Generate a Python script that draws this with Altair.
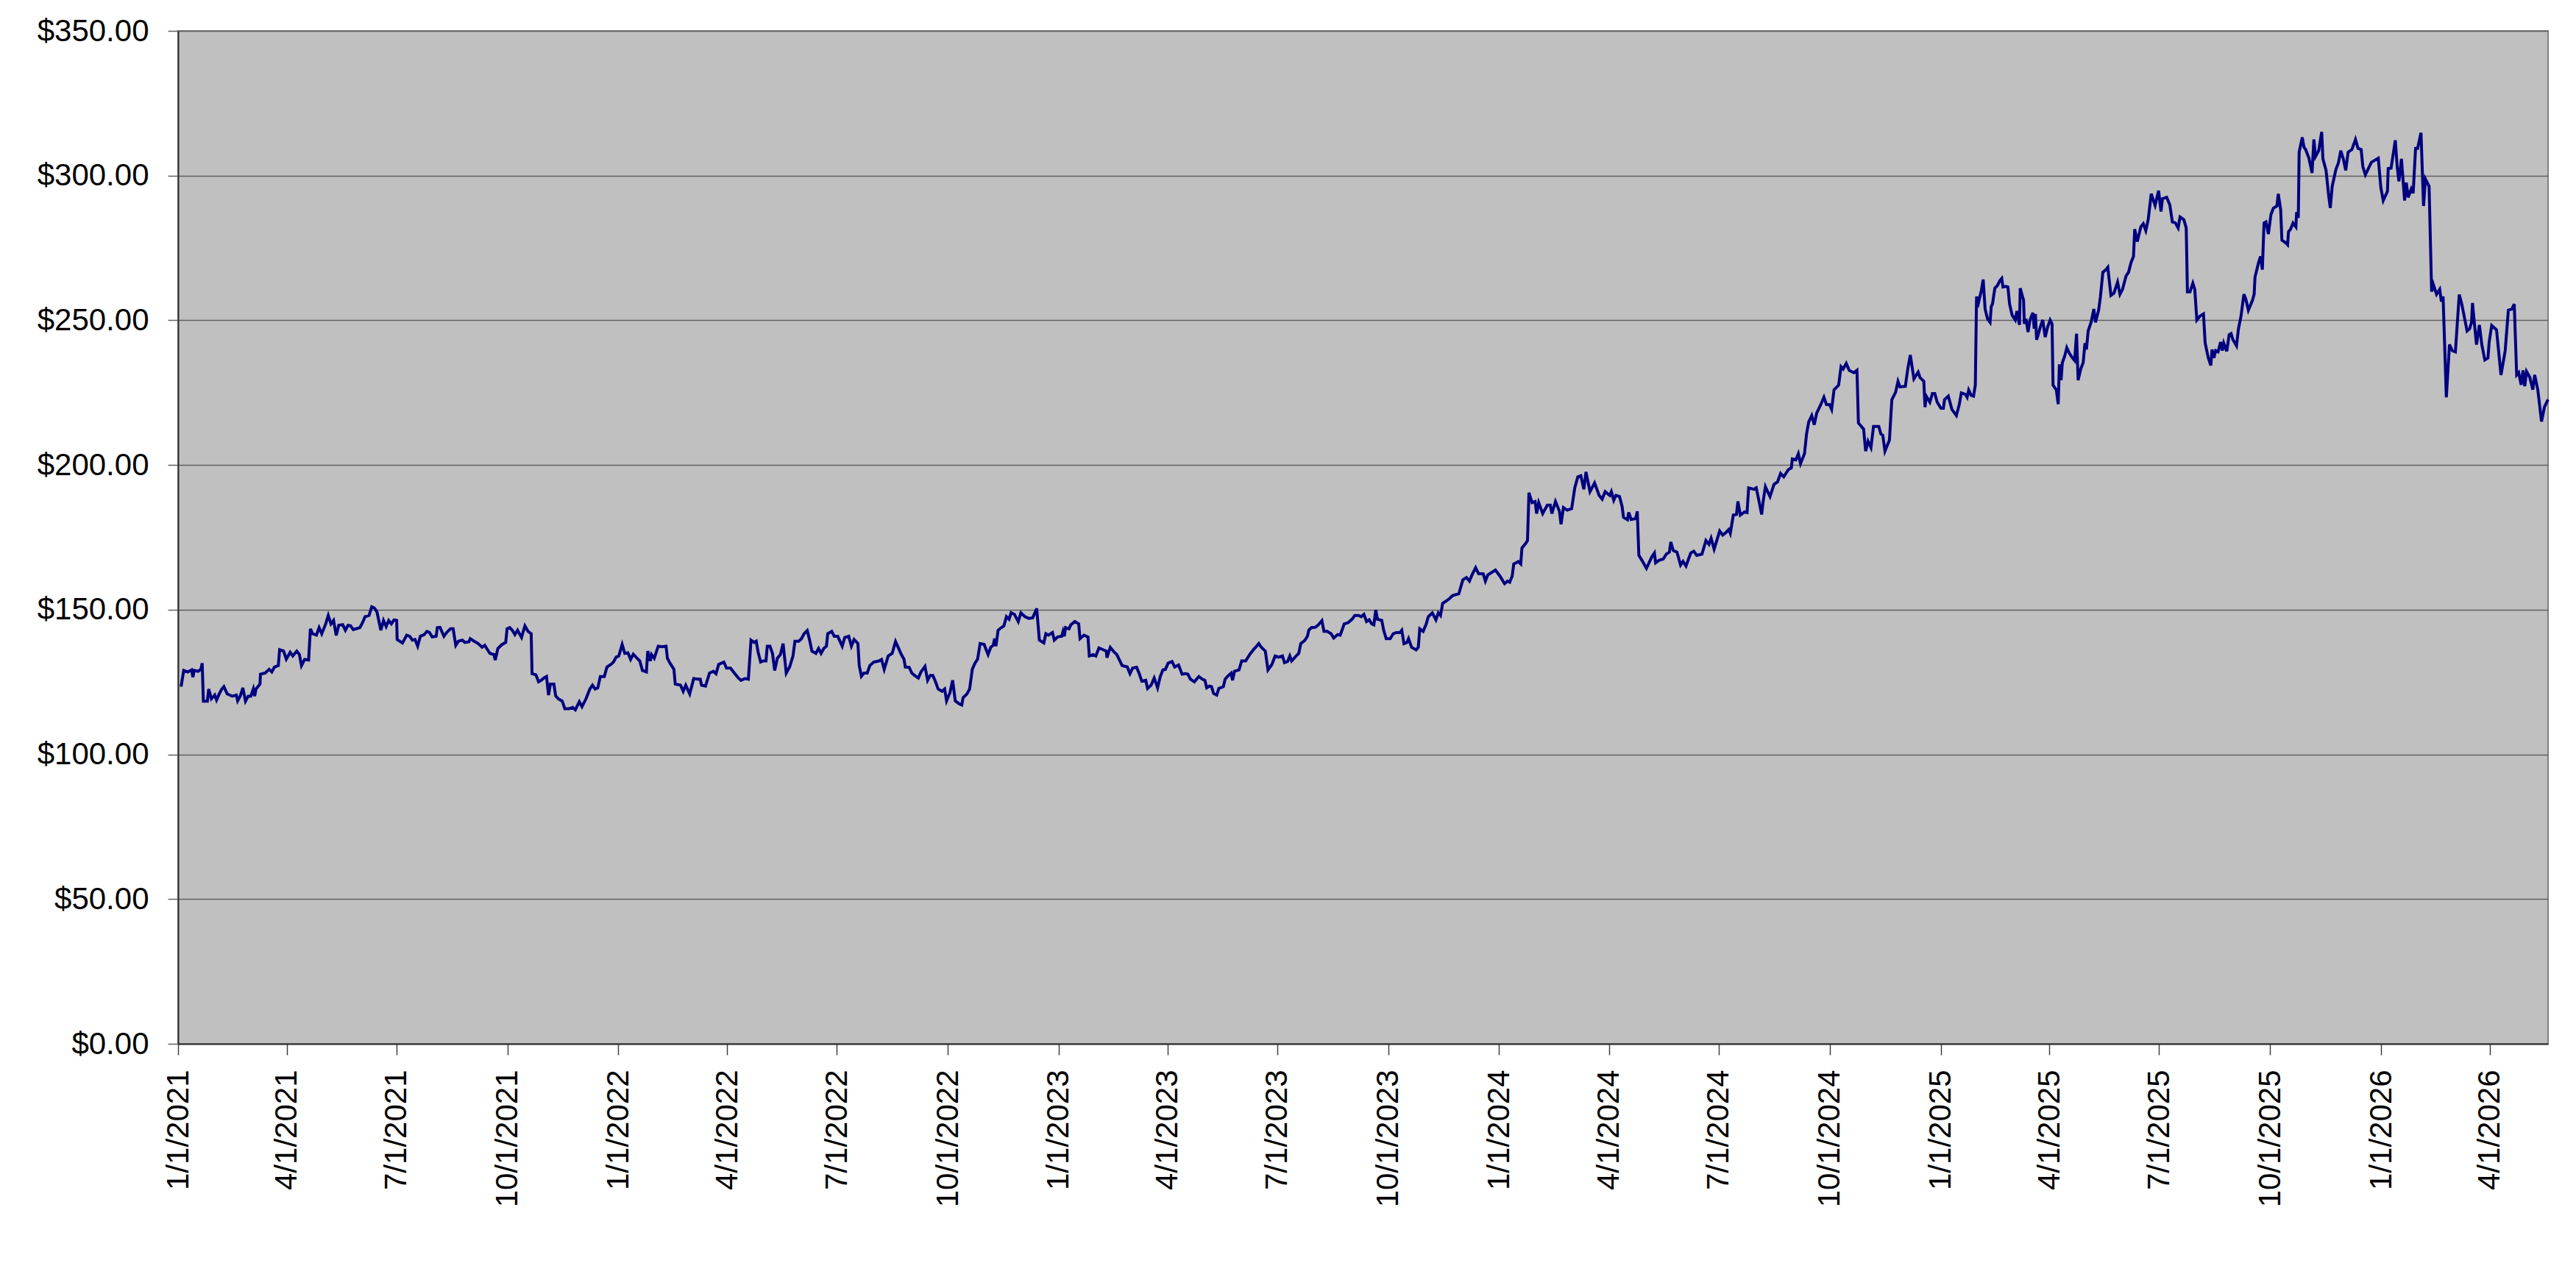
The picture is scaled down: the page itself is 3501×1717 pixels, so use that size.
import altair as alt
import pandas as pd

# (days after 1/1/2021, closing price in $), segment by segment
SEG_2021 = [
    (2.5, 123.4), (4.7, 129.0), (8.0, 128.5), (11.2, 129.2), (12.3, 126.7), (13.4, 129.0), (16.7, 128.7),
    (18.9, 129.4), (20.0, 131.5), (21.0, 118.4), (24.3, 118.4), (25.4, 122.6), (27.6, 119.2), (30.4, 120.5),
    (31.9, 118.8), (34.1, 120.9), (36.3, 122.6), (38.0, 123.4), (40.7, 120.9), (45.0, 120.1), (48.3, 120.5),
    (49.4, 118.5), (51.5, 120.1), (53.7, 123.0), (55.9, 118.4), (58.1, 120.1), (60.3, 120.1), (62.4, 122.6),
    (63.5, 120.1), (64.6, 122.6), (67.9, 124.3), (68.3, 127.7), (72.2, 128.1), (75.5, 129.4), (77.7, 128.5),
    (79.9, 130.2), (83.1, 130.7), (84.2, 136.2), (87.5, 135.7), (89.7, 132.9), (92.9, 135.3), (95.1, 134.0),
    (98.4, 135.7), (100.6, 134.5), (102.3, 130.7), (104.9, 132.8), (108.2, 132.6), (109.7, 143.4), (111.5, 141.7),
    (114.7, 141.2), (116.9, 143.8), (119.1, 141.7), (122.4, 145.1), (124.5, 148.0), (126.7, 145.1), (128.9, 146.3),
    (131.1, 141.1), (133.2, 144.6), (136.5, 144.8), (138.7, 142.9), (140.9, 144.6), (143.0, 144.4), (145.2, 143.1),
    (150.7, 143.8), (152.9, 145.5), (155.0, 147.6), (158.3, 148.0), (160.5, 151.0), (162.7, 150.6), (164.8, 149.3),
    (168.1, 142.9), (170.3, 146.3), (172.5, 144.2), (174.6, 146.3), (176.8, 145.1), (179.0, 146.5), (181.2, 146.3),
    (181.6, 139.7), (186.0, 138.5), (189.5, 141.2), (192.1, 140.8), (194.2, 139.5), (196.4, 139.7), (198.6, 137.4),
    (200.8, 140.8), (204.1, 141.4), (206.2, 142.5), (208.4, 142.1), (210.6, 140.6), (213.9, 140.8), (214.9, 143.8),
    (217.1, 143.9), (220.4, 140.8), (222.6, 142.1), (225.8, 143.4), (228.0, 143.4), (230.2, 137.7), (232.4, 139.1),
    (235.6, 139.5), (237.8, 138.7), (241.1, 138.9), (242.2, 140.0), (245.4, 139.1), (248.7, 138.3), (252.0, 137.0),
    (254.2, 137.7), (256.3, 136.3), (258.5, 134.9), (261.8, 134.5), (262.9, 132.6), (265.1, 136.6), (268.3, 137.9),
    (271.6, 138.7), (272.7, 143.4), (274.9, 143.8), (277.0, 142.9), (279.2, 141.4), (281.4, 142.9), (284.7, 140.4),
    (287.5, 144.4), (290.1, 142.5), (292.7, 141.7), (293.4, 127.9), (296.6, 127.5), (298.8, 125.1), (301.0, 125.6),
    (303.2, 126.4), (305.4, 126.9), (307.1, 120.5), (308.6, 124.3), (311.5, 124.3), (313.0, 120.2), (315.2, 119.2),
    (318.4, 118.4), (320.6, 115.8), (323.9, 115.8), (327.1, 116.2), (329.3, 115.4), (332.6, 118.2),
]

SEG_2022 = [
    (334.8, 116.5), (338.1, 119.2), (341.3, 122.6), (343.5, 123.9), (345.7, 122.6), (347.9, 123.0), (350.0, 126.9),
    (353.3, 126.9), (355.5, 130.2), (358.8, 131.1), (360.9, 131.9), (363.1, 133.6), (365.3, 134.0), (368.1, 138.0),
    (370.3, 134.9), (372.9, 135.1), (375.1, 132.8), (377.3, 134.6), (380.5, 133.2), (382.7, 132.3), (384.9, 129.0),
    (388.2, 128.5), (389.3, 135.7), (391.4, 132.3), (392.5, 134.5), (394.7, 133.2), (398.0, 137.4), (401.2, 137.2),
    (404.5, 137.4), (405.6, 133.2), (407.8, 131.5), (411.0, 129.4), (412.1, 124.3), (416.5, 123.9), (418.7, 121.8),
    (420.8, 123.9), (424.1, 120.9), (427.4, 126.2), (430.6, 126.0), (432.8, 126.0), (433.9, 123.9), (437.2, 123.6),
    (440.5, 128.1), (443.7, 128.7), (445.9, 127.9), (448.1, 131.1), (452.4, 131.9), (454.6, 129.8), (457.9, 129.8),
    (461.1, 128.1), (464.4, 126.4), (466.6, 125.6), (469.9, 126.2), (472.7, 126.0), (474.9, 139.5), (477.5, 138.7),
    (479.2, 139.1), (480.8, 135.3), (482.9, 131.9), (485.1, 132.3), (487.3, 132.3), (488.4, 137.4), (490.6, 137.4),
    (492.7, 134.9), (494.5, 129.0), (496.7, 133.2), (499.3, 134.5), (501.5, 138.3), (504.1, 128.1), (506.9, 130.2),
    (509.7, 134.0), (511.3, 139.1), (514.5, 139.1), (516.7, 140.0), (518.9, 141.7), (521.5, 142.8), (523.2, 140.0),
    (525.4, 135.7), (528.7, 134.9), (530.9, 136.6), (533.0, 134.9), (535.2, 136.6), (537.4, 137.4), (538.5, 141.7),
    (541.8, 142.5), (543.9, 140.8), (546.8, 140.8), (550.5, 137.4), (552.6, 140.4), (555.9, 140.8), (558.1, 137.4),
    (560.3, 139.7), (563.5, 138.3), (564.6, 130.7), (566.4, 127.0), (568.5, 128.1), (571.2, 128.1), (573.4, 130.7),
    (576.6, 131.9), (581.0, 132.3), (583.1, 132.8), (585.3, 129.4), (588.6, 134.0), (591.9, 134.9), (594.7, 139.0),
    (597.3, 136.6), (599.5, 134.5), (601.7, 132.9), (602.8, 130.2), (606.0, 130.1), (608.2, 128.1), (610.4, 127.3),
    (613.6, 126.4), (615.8, 128.5), (619.1, 130.4), (621.3, 125.6), (623.5, 127.3), (625.6, 127.3), (627.8, 125.1),
    (630.0, 122.6), (633.3, 121.8), (635.4, 122.6), (637.0, 118.5), (639.8, 121.3), (642.0, 125.6), (644.2, 118.5),
    (647.4, 117.5), (649.6, 117.1), (650.7, 119.6), (653.9, 120.9), (656.1, 122.6), (658.3, 129.4), (660.5, 131.5),
    (662.7, 132.9), (664.8, 138.3), (668.1, 138.0),
]

SEG_2023 = [
    (671.4, 134.5), (673.6, 137.0), (675.7, 137.7), (676.8, 140.0), (677.9, 137.4), (679.7, 142.9), (682.3, 143.8),
    (684.5, 144.4), (686.6, 147.6), (688.8, 146.7), (690.5, 149.0), (693.2, 148.4), (696.4, 145.9), (698.6, 148.9),
    (701.9, 147.6), (705.1, 147.0), (708.4, 147.2), (711.7, 150.4), (713.9, 139.5), (717.6, 138.5), (719.3, 141.7),
    (721.5, 141.2), (724.8, 142.1), (726.3, 139.5), (729.1, 140.6), (732.4, 140.8), (733.5, 142.5), (734.6, 140.8),
    (735.6, 143.8), (738.5, 143.4), (740.0, 144.8), (743.3, 145.9), (746.5, 145.1), (747.6, 140.0), (750.9, 141.2),
    (754.2, 140.6), (755.3, 134.0), (758.5, 134.5), (760.7, 134.0), (763.3, 136.8), (766.1, 136.3), (769.4, 135.7),
    (769.9, 133.4), (772.7, 137.0), (776.0, 135.3), (778.1, 134.5), (782.5, 130.7), (786.8, 130.2), (789.0, 127.9),
    (791.2, 129.8), (794.5, 130.1), (796.7, 127.9), (798.8, 125.3), (802.1, 125.6), (803.6, 122.8), (806.5, 123.9),
    (809.1, 126.4), (811.9, 123.0), (814.1, 126.9), (816.3, 129.2), (818.4, 129.4), (820.6, 131.5), (823.9, 132.1),
    (826.1, 130.2), (829.3, 130.9), (832.2, 127.7), (834.8, 127.9), (837.0, 127.7), (839.1, 126.0), (842.4, 125.1),
    (846.1, 126.9), (849.0, 126.0), (851.1, 125.6), (852.6, 123.0), (854.8, 123.6), (856.6, 123.4), (858.3, 121.1),
    (860.9, 120.5), (862.7, 122.8), (866.4, 123.4), (867.9, 126.0), (870.7, 127.3), (872.9, 128.1), (874.0, 125.6),
    (875.7, 128.7), (879.4, 129.2), (881.6, 132.3), (884.9, 132.3), (888.2, 134.5), (891.4, 136.2), (893.6, 137.2),
    (895.8, 138.3), (897.9, 137.0), (901.2, 135.7), (903.4, 129.2), (906.7, 131.1), (909.3, 134.0), (912.1, 133.6),
    (915.4, 134.0), (917.1, 131.7), (919.7, 132.1), (921.5, 134.0), (923.0, 132.3), (926.3, 133.8), (928.9, 134.9),
    (930.6, 138.3), (933.9, 139.4), (936.1, 140.8), (937.2, 142.9), (939.3, 143.8), (942.6, 143.9), (944.8, 144.6),
    (948.1, 146.2), (949.8, 142.5), (952.4, 142.5), (955.7, 141.7), (957.9, 140.2), (961.1, 141.4), (963.3, 141.2),
    (964.4, 142.5), (966.6, 145.1), (969.8, 145.5), (973.1, 146.7), (975.3, 148.0), (978.6, 148.0), (980.7, 147.6),
    (982.9, 148.4), (985.1, 145.9), (987.3, 146.5), (989.4, 145.1), (991.2, 144.8), (992.7, 149.9), (994.2, 146.7),
    (997.7, 146.3), (999.3, 142.9), (1001.4, 140.0),
]

SEG_2024 = [
    (1004.7, 140.0), (1007.2, 141.7), (1009.8, 142.1), (1012.8, 142.1), (1014.3, 142.9), (1016.1, 138.3),
    (1018.6, 138.7), (1019.9, 140.0), (1022.4, 137.0), (1026.2, 136.1), (1028.0, 137.0), (1029.2, 143.4),
    (1032.0, 142.5), (1034.5, 145.0), (1036.3, 147.6), (1039.6, 148.9), (1042.6, 146.5), (1044.6, 148.9),
    (1046.4, 148.0), (1048.2, 152.2), (1051.5, 153.1), (1054.0, 153.9), (1056.5, 154.9), (1061.6, 155.5),
    (1064.9, 160.3), (1067.9, 161.1), (1070.4, 159.9), (1072.5, 162.0), (1075.5, 164.5), (1078.0, 162.4),
    (1081.8, 162.4), (1083.6, 159.9), (1085.6, 162.0), (1091.9, 163.7), (1095.7, 161.6), (1099.5, 159.0),
    (1102.0, 159.9), (1103.8, 159.5), (1105.8, 161.6), (1107.1, 165.8), (1110.9, 166.6), (1112.9, 165.8),
    (1113.9, 171.3), (1117.2, 173.0), (1118.5, 173.9), (1119.7, 190.4), (1122.3, 187.0), (1124.8, 187.4),
    (1126.1, 183.2), (1127.8, 187.0), (1131.1, 183.2), (1134.9, 186.1), (1137.4, 186.1), (1138.7, 183.2),
    (1141.7, 187.4), (1145.0, 184.0), (1146.3, 179.5), (1148.3, 185.3), (1151.4, 184.4), (1155.1, 184.9),
    (1157.7, 192.1), (1160.2, 195.9), (1162.7, 196.3), (1165.2, 191.6), (1167.0, 197.6), (1170.3, 190.8),
    (1174.1, 193.8), (1177.9, 189.5), (1180.4, 188.2), (1182.9, 190.8), (1186.7, 189.5), (1188.0, 190.8),
    (1190.0, 187.8), (1191.8, 189.5), (1194.8, 189.1), (1196.9, 185.7), (1198.1, 181.9), (1201.4, 181.1),
    (1202.4, 183.6), (1204.4, 181.2), (1208.2, 181.5), (1209.5, 184.0), (1210.8, 168.8), (1213.3, 167.1),
    (1217.1, 164.3), (1221.6, 168.3), (1223.7, 169.6), (1224.7, 166.2), (1227.7, 167.1), (1231.0, 167.5),
    (1233.5, 169.2), (1236.1, 169.9), (1237.3, 173.4), (1239.3, 170.5), (1242.4, 169.9), (1245.4, 165.4),
    (1247.4, 166.7), (1249.9, 165.1), (1253.8, 169.6), (1256.3, 170.2), (1258.8, 168.8), (1263.1, 169.2),
    (1266.4, 173.9), (1268.9, 172.6), (1270.7, 174.7), (1273.2, 170.9), (1277.8, 177.2), (1280.3, 175.8),
    (1282.8, 176.6), (1285.3, 177.7), (1286.6, 176.4), (1289.1, 182.7), (1291.7, 182.9), (1292.9, 187.4),
    (1294.9, 182.7), (1298.5, 183.8), (1300.5, 183.6), (1301.8, 192.1), (1306.1, 191.6), (1308.1, 192.1),
    (1309.4, 189.5), (1312.6, 182.9), (1313.7, 187.0), (1315.7, 192.5), (1319.5, 189.1), (1322.8, 193.3),
    (1325.8, 194.2), (1328.3, 197.1), (1330.9, 195.9), (1334.7, 198.4), (1337.2, 199.0), (1338.0, 202.1),
    (1341.0, 201.8), (1343.0, 203.9), (1344.8, 200.5), (1348.1, 203.9), (1349.8, 210.7), (1351.6, 214.9),
    (1354.1, 217.1), (1356.2, 213.9), (1358.2, 217.9), (1361.2, 220.5), (1364.2, 223.4), (1366.3, 220.9),
    (1368.8, 220.9), (1370.6, 219.2), (1372.6, 226.0), (1376.4, 227.6), (1378.4, 234.0), (1380.2, 233.2),
    (1382.7, 235.1), (1385.2, 232.7), (1389.0, 231.9), (1391.6, 232.7), (1392.8, 214.5),
]

SEG_2025 = [
    (1397.1, 212.4), (1398.8, 204.8), (1400.8, 208.2), (1403.2, 206.0), (1405.3, 213.3), (1409.7, 213.3),
    (1411.4, 210.7), (1413.0, 210.3), (1414.8, 204.8), (1418.5, 208.6), (1420.5, 222.6), (1423.6, 225.1),
    (1425.6, 228.9), (1427.2, 227.0), (1431.7, 227.2), (1433.7, 233.2), (1435.8, 238.0), (1438.8, 229.8),
    (1442.3, 232.1), (1443.9, 230.2), (1447.0, 228.9), (1448.0, 220.0), (1449.0, 223.8), (1452.0, 221.7),
    (1454.1, 224.7), (1456.1, 224.7), (1458.1, 221.7), (1461.2, 219.6), (1463.2, 219.6), (1464.2, 222.6),
    (1467.3, 223.8), (1470.3, 219.2), (1474.0, 217.1), (1476.4, 220.9), (1478.1, 224.9), (1481.5, 224.4),
    (1482.9, 223.4), (1484.2, 225.9), (1486.2, 224.1), (1488.2, 223.8), (1489.7, 227.6), (1490.7, 258.2),
    (1492.3, 256.0), (1494.7, 260.3), (1496.2, 264.1), (1497.8, 253.9), (1499.8, 250.5), (1501.9, 249.3),
    (1502.9, 254.8), (1503.9, 255.6), (1505.9, 261.1), (1508.0, 262.0), (1510.0, 263.7), (1511.6, 264.5),
    (1512.6, 261.5), (1515.1, 261.7), (1516.7, 261.5), (1518.1, 255.6), (1520.2, 251.8), (1522.8, 250.1),
    (1524.2, 253.2), (1526.3, 248.4), (1526.9, 261.1), (1529.7, 256.9), (1530.3, 248.8), (1531.7, 250.5),
    (1533.4, 245.9), (1535.0, 250.1), (1537.4, 252.6), (1538.5, 247.1), (1539.5, 252.2), (1540.5, 243.3),
    (1541.5, 244.6), (1543.5, 247.6), (1545.6, 250.1), (1547.6, 244.2), (1549.6, 247.6), (1551.7, 250.1),
    (1553.3, 248.8), (1554.1, 227.6), (1556.8, 226.0), (1558.4, 221.0), (1559.4, 234.8), (1560.8, 229.3),
    (1561.8, 235.3), (1563.9, 237.8), (1565.5, 240.5), (1567.5, 238.7), (1570.0, 237.1), (1572.0, 236.1),
    (1573.6, 245.4), (1574.9, 229.3), (1577.1, 233.2), (1579.1, 235.4), (1580.6, 242.1), (1581.8, 239.9),
    (1583.2, 246.3), (1585.8, 249.5), (1587.9, 253.9), (1589.3, 249.3), (1591.9, 253.5), (1593.4, 258.2),
    (1595.4, 266.6), (1598.0, 267.5), (1599.5, 268.3), (1602.1, 258.6), (1604.6, 259.4), (1607.6, 263.2),
    (1609.6, 259.0), (1611.7, 260.7), (1614.7, 265.4), (1616.7, 266.6), (1618.8, 270.0), (1620.8, 272.1),
    (1621.8, 281.5), (1623.9, 277.2), (1626.9, 282.3), (1628.9, 283.4), (1631.0, 281.0), (1633.0, 284.8),
    (1635.5, 293.7), (1638.7, 289.7), (1641.6, 294.8), (1643.6, 287.6), (1644.8, 292.0), (1648.3, 292.5),
    (1650.9, 289.9), (1653.0, 284.0), (1655.4, 283.7), (1657.8, 281.9), (1659.4, 285.7), (1662.5, 284.8),
    (1664.5, 281.9), (1665.5, 259.8), (1667.6, 259.8), (1670.0, 262.8), (1671.6, 260.7), (1673.3, 250.1),
]

SEG_2026 = [
    (1675.7, 251.4), (1678.8, 252.2), (1680.2, 242.1), (1682.8, 237.0), (1684.9, 234.4), (1685.9, 239.9),
    (1687.5, 237.0), (1688.9, 239.5), (1690.9, 239.1), (1693.0, 242.5), (1694.4, 239.5), (1695.6, 242.1),
    (1698.1, 239.3), (1700.1, 245.0), (1701.7, 245.4), (1703.2, 243.3), (1706.2, 241.2), (1707.8, 247.1),
    (1709.9, 251.4), (1712.3, 259.0), (1713.9, 257.3), (1716.0, 253.5), (1719.4, 256.9), (1720.8, 259.0),
    (1721.5, 264.9), (1724.5, 270.0), (1726.1, 272.1), (1727.6, 267.5), (1729.0, 283.6), (1730.6, 284.0),
    (1732.6, 279.8), (1734.7, 286.5), (1736.7, 288.7), (1739.7, 289.5), (1740.8, 293.7), (1742.8, 288.2),
    (1743.8, 277.7), (1746.9, 276.8), (1748.5, 276.1), (1749.3, 280.6), (1751.0, 281.5), (1753.0, 283.6),
    (1755.4, 282.3), (1756.0, 287.4), (1757.4, 285.4), (1758.1, 308.1), (1760.7, 313.2), (1762.1, 309.8),
    (1763.5, 309.0), (1766.2, 306.0), (1768.8, 300.9), (1770.3, 312.5), (1771.7, 306.6), (1774.3, 308.6),
    (1776.8, 315.1), (1777.8, 305.8), (1780.4, 301.8), (1782.5, 293.3), (1783.9, 288.8), (1785.5, 296.3),
    (1788.6, 302.2), (1790.6, 304.3), (1792.6, 308.6), (1794.7, 305.8), (1796.7, 301.8), (1798.7, 308.1),
    (1801.8, 309.0), (1804.8, 312.5), (1806.9, 309.4), (1809.5, 309.0), (1810.9, 303.1), (1813.0, 300.3),
    (1818.0, 304.6), (1823.7, 306.0), (1825.8, 295.9), (1827.8, 291.4), (1831.3, 294.6), (1831.9, 302.4),
    (1834.3, 302.6), (1837.8, 312.2), (1839.4, 302.9), (1840.8, 298.0), (1842.9, 305.8), (1845.5, 291.4),
    (1846.9, 297.6), (1848.5, 292.5), (1851.0, 295.4), (1852.6, 293.9), (1854.6, 309.4), (1856.3, 309.4),
    (1859.1, 314.8), (1861.2, 289.5), (1862.8, 298.8), (1865.8, 296.3), (1867.9, 259.9), (1869.3, 262.4),
    (1872.0, 259.0), (1874.6, 260.7), (1876.0, 256.5), (1877.4, 258.2), (1880.1, 223.4), (1882.7, 241.6),
    (1885.1, 239.5), (1887.6, 239.1), (1890.8, 258.9), (1892.9, 255.6), (1897.3, 246.3), (1899.4, 247.1),
    (1901.0, 249.3), (1901.8, 256.0), (1903.0, 250.5), (1905.1, 241.6), (1907.5, 248.4), (1909.5, 241.6),
    (1912.0, 236.3), (1914.6, 237.0), (1915.6, 242.5), (1917.7, 248.2), (1921.7, 246.7), (1925.4, 231.1),
    (1928.9, 239.5), (1931.5, 253.5), (1934.4, 253.9), (1936.4, 255.6), (1938.4, 231.1), (1940.1, 231.9),
    (1942.1, 227.7), (1943.7, 232.7), (1945.1, 227.2), (1946.6, 232.3), (1949.2, 230.4), (1951.8, 226.0),
    (1953.3, 231.1), (1955.9, 226.0), (1959.0, 215.0), (1961.4, 220.0), (1964.4, 222.6),
]

START_DATE = "2021-01-01"
TICK_DATES = [
    "2021-01-01", "2021-04-01", "2021-07-01", "2021-10-01",
    "2022-01-01", "2022-04-01", "2022-07-01", "2022-10-01",
    "2023-01-01", "2023-04-01", "2023-07-01", "2023-10-01",
    "2024-01-01", "2024-04-01", "2024-07-01", "2024-10-01",
    "2025-01-01", "2025-04-01", "2025-07-01", "2025-10-01",
    "2026-01-01", "2026-04-01",
]
Y_TICKS = [0, 50, 100, 150, 200, 250, 300, 350]

points = SEG_2021 + SEG_2022 + SEG_2023 + SEG_2024 + SEG_2025 + SEG_2026
days = [p[0] for p in points]
prices = [p[1] for p in points]
base = pd.Timestamp(START_DATE)
df = pd.DataFrame({
    "date": base + pd.to_timedelta(days, unit="D"),
    "price": prices,
})

def to_dt(ts):
    ts = pd.Timestamp(ts)
    return alt.DateTime(year=ts.year, month=ts.month, date=ts.day,
                        hours=ts.hour, minutes=ts.minute)

x_domain = [to_dt(base), to_dt(df["date"].max())]
x_ticks = [to_dt(d) for d in TICK_DATES]

FONT = "Liberation Sans"
FONT_SIZE = 42

chart = alt.Chart(df).mark_line(color="#000080", strokeWidth=4).encode(
    x=alt.X(
        "date:T",
        scale=alt.Scale(domain=x_domain),
        axis=alt.Axis(
            values=x_ticks,
            format="%-m/%-d/%Y",
            labelAngle=270,
            labelFont=FONT,
            labelFontSize=FONT_SIZE,
            labelColor="#000000",
            labelPadding=20,
            labelFlush=False,
            labelOverlap=False,
            labelLimit=500,
            tickSize=15,
            tickColor="#404040",
            tickWidth=1.5,
            domainColor="#303030",
            domainWidth=2,
            grid=False,
            title=None,
        ),
    ),
    y=alt.Y(
        "price:Q",
        scale=alt.Scale(domain=[0, 350], nice=False),
        axis=alt.Axis(
            values=Y_TICKS,
            format="$.2f",
            labelFont=FONT,
            labelFontSize=FONT_SIZE,
            labelColor="#000000",
            labelPadding=26,
            labelLimit=500,
            tickSize=14,
            tickColor="#606060",
            tickWidth=1.5,
            domainColor="#303030",
            domainWidth=2,
            grid=True,
            gridColor="#606060",
            gridWidth=1.5,
            title=None,
        ),
    ),
).properties(
    width=3221,
    height=1377,
    background="#FFFFFF",
    padding={"left": 234, "top": 34, "right": 30, "bottom": 280},
    autosize=alt.AutoSizeParams(type="none"),
).configure_view(
    fill="#C0C0C0",
    stroke="#808080",
    strokeWidth=2,
)

chart.save("out.html", embed_options={"renderer": "svg", "actions": False})
